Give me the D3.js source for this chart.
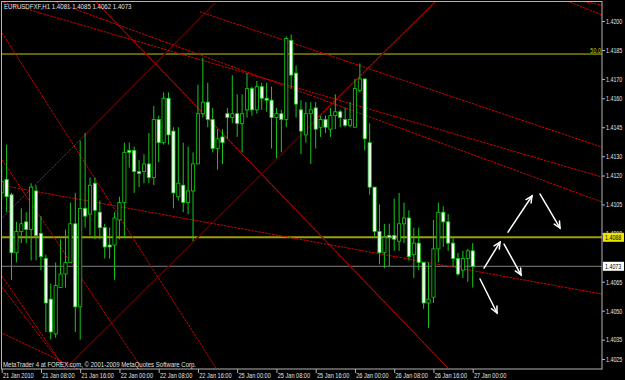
<!DOCTYPE html>
<html><head><meta charset="utf-8">
<script src="https://cdn.jsdelivr.net/npm/d3@7"></script>
<style>html,body{margin:0;padding:0;background:#000;}svg{display:block;}</style>
</head><body>
<script>
// ---- data ----
const symbolTitle = "EURUSDFXF,H1  1.4081 1.4085 1.4062 1.4073";
const copyright = "MetaTrader 4 at FOREX.com, \u00A9 2001-2009 MetaQuotes Software Corp.";
const opens  = [1.4111,1.4118,1.4110,1.4080,1.4091,1.4096,1.4092,1.4112,1.4090,1.4077,1.4056,1.4038,1.4062,1.4069,1.4075,1.4095,1.4052,1.4103,1.4100,1.4116,1.4101,1.4093,1.4084,1.4084,1.4097,1.4106,1.4133,1.4133,1.4122,1.4122,1.4126,1.4119,1.4149,1.4137,1.4160,1.4143,1.4109,1.4115,1.4106,1.4112,1.4126,1.4152,1.4158,1.4149,1.4134,1.4140,1.4152,1.4150,1.4152,1.4147,1.4154,1.4165,1.4154,1.4166,1.4160,1.4159,1.4150,1.4152,1.4149,1.4190,1.4173,1.4154,1.4141,1.4152,1.4155,1.4145,1.4149,1.4144,1.4151,1.4153,1.4149,1.4146,1.4145,1.4164,1.4170,1.4137,1.4114,1.4091,1.4080,1.4089,1.4089,1.4086,1.4095,1.4098,1.4079,1.4085,1.4075,1.4054,1.4057,1.4082,1.4101,1.4096,1.4085,1.4077,1.4071,1.4077,1.4081];
const highs  = [1.4125,1.4136,1.4111,1.4096,1.4103,1.4101,1.4116,1.4115,1.4099,1.4079,1.4064,1.4075,1.4087,1.4092,1.4106,1.4111,1.4138,1.4142,1.4119,1.4119,1.4107,1.4095,1.4093,1.4101,1.4109,1.4137,1.4137,1.4135,1.4128,1.4131,1.4142,1.4156,1.4151,1.4163,1.4163,1.4145,1.4145,1.4137,1.4135,1.4132,1.4167,1.4181,1.4168,1.4155,1.4144,1.4144,1.4155,1.4172,1.4162,1.4162,1.4173,1.4166,1.4169,1.4168,1.4168,1.4166,1.4155,1.4154,1.4192,1.4193,1.4177,1.4159,1.4158,1.4158,1.4158,1.4151,1.4151,1.4155,1.4162,1.4154,1.4155,1.4158,1.4170,1.4178,1.4170,1.4147,1.4114,1.4105,1.4095,1.4095,1.4108,1.4111,1.4106,1.4102,1.4093,1.4093,1.4075,1.4075,1.4097,1.4106,1.4104,1.4100,1.4088,1.4080,1.4081,1.4082,1.4085];
const lows   = [1.4107,1.4101,1.4066,1.4075,1.4085,1.4085,1.4076,1.4076,1.4071,1.4039,1.4035,1.4036,1.4062,1.4062,1.4075,1.4039,1.4035,1.4093,1.4089,1.4087,1.4087,1.4077,1.4077,1.4066,1.4087,1.4088,1.4124,1.4111,1.4114,1.4116,1.4116,1.4115,1.4127,1.4136,1.4136,1.4103,1.4107,1.4101,1.4100,1.4086,1.4126,1.4150,1.4145,1.4132,1.4123,1.4126,1.4139,1.4147,1.4140,1.4132,1.4150,1.4151,1.4152,1.4154,1.4153,1.4134,1.4129,1.4132,1.4145,1.4165,1.4150,1.4131,1.4137,1.4126,1.4134,1.4140,1.4142,1.4140,1.4144,1.4145,1.4145,1.4145,1.4145,1.4163,1.4133,1.4110,1.4088,1.4074,1.4072,1.4073,1.4081,1.4081,1.4085,1.4076,1.4067,1.4071,1.4051,1.4041,1.4054,1.4075,1.4083,1.4081,1.4073,1.4068,1.4067,1.4065,1.4062];
const closes = [1.4117,1.4109,1.4080,1.4091,1.4095,1.4092,1.4114,1.4089,1.4078,1.4054,1.4039,1.4063,1.4069,1.4075,1.4095,1.4052,1.4103,1.4099,1.4115,1.4102,1.4093,1.4083,1.4083,1.4098,1.4106,1.4132,1.4132,1.4122,1.4121,1.4126,1.4119,1.4149,1.4137,1.4160,1.4141,1.4111,1.4116,1.4106,1.4112,1.4126,1.4152,1.4158,1.4149,1.4134,1.4139,1.4137,1.4150,1.4152,1.4147,1.4152,1.4165,1.4154,1.4166,1.4160,1.4159,1.4150,1.4152,1.4149,1.4191,1.4172,1.4157,1.4143,1.4152,1.4154,1.4144,1.4149,1.4145,1.4151,1.4153,1.4150,1.4146,1.4149,1.4165,1.4170,1.4139,1.4114,1.4091,1.4080,1.4088,1.4088,1.4087,1.4095,1.4098,1.4078,1.4085,1.4075,1.4054,1.4056,1.4082,1.4101,1.4096,1.4085,1.4077,1.4069,1.4077,1.4081,1.4073];

const xTickBars   = [0,8,16,24,32,40,48,56,64,72,80,88,96];
const xTickLabels = ["21 Jan 2010","21 Jan 08:00","21 Jan 16:00","22 Jan 00:00","22 Jan 08:00","22 Jan 16:00","25 Jan 00:00","25 Jan 08:00","25 Jan 16:00","26 Jan 00:00","26 Jan 08:00","26 Jan 16:00","27 Jan 00:00"];
const yTickValues = [1.4200,1.4185,1.4170,1.4160,1.4145,1.4130,1.4120,1.4105,1.4090,1.4065,1.4050,1.4035,1.4025];

const fibLevel = 1.41829, fibLabel = "50.0";
const hLevel = 1.4088;
const bidPrice = 1.4073;

// trend lines: [barIndex, price] pairs
const redLines = [
  [[0.06,1.41938],[43.68,1.40203]],
  [[19.02,1.42104],[90.97,1.40203]],
  [[-0.35,1.40969],[15.96,1.41384]],
  [[64.47,1.41503],[88.32,1.42098]],
  [[-0.35,1.41151],[122.36,1.40586]],
  [[40.42,1.42047],[122.36,1.41347]],
  [[0.26,1.42098],[122.36,1.41192]],
  [[9.85,1.42109],[122.36,1.41063]],
  [[115.84,1.42098],[122.36,1.42031]],
  [[117.88,1.42104],[122.36,1.42083]],
  [[-0.35,1.41296],[28.8,1.40193]],
  [[0.06,1.40679],[13.11,1.40193]],
  [[0.06,1.40622],[13.11,1.40193]],
  [[-0.35,1.40389],[15.96,1.40193]]
];
const darkLines = [
  [[19.02,1.42104],[90.97,1.40203]],
  [[15.96,1.41384],[43.48,1.42093]],
  [[13.11,1.40203],[88.32,1.42098]]
];
const arrows = [
  [[98.31,1.40721],[101.57,1.40855]],
  [[103.2,1.40907],[108.09,1.41094]],
  [[109.73,1.41104],[113.8,1.40928]],
  [[102.39,1.40845],[105.85,1.40685]],
  [[97.5,1.40664],[100.96,1.40488]]
];

// ---- drawing ----
const W = 625, H = 380;
const plot = {l:1.5, r:602, t:1.5, b:369};
const x = d3.scaleLinear().domain([0, 96]).range([1.7, 472.7]);
const y = d3.scaleLinear().domain([1.4025, 1.4200]).range([359, 21]);

const svg = d3.select("body").append("svg").attr("width", W).attr("height", H)
  .style("background", "#000");
svg.append("rect").attr("width", W).attr("height", H).attr("fill", "#000");

svg.append("clipPath").attr("id","clip").append("rect")
  .attr("x", plot.l).attr("y", plot.t).attr("width", plot.r-plot.l).attr("height", plot.b-plot.t);
const g = svg.append("g").attr("clip-path","url(#clip)");

const line = d3.line().x(d => x(d[0])).y(d => y(d[1]));

// horizontal levels
g.append("line").attr("x1", plot.l).attr("x2", plot.r).attr("y1", y(fibLevel)).attr("y2", y(fibLevel))
  .attr("stroke", "#c8c800").attr("stroke-width", 1);
g.append("line").attr("x1", plot.l).attr("x2", plot.r).attr("y1", y(hLevel)).attr("y2", y(hLevel))
  .attr("stroke", "#a0a000").attr("stroke-width", 2);
g.append("line").attr("x1", plot.l).attr("x2", plot.r).attr("y1", y(bidPrice)).attr("y2", y(bidPrice))
  .attr("stroke", "#808080").attr("stroke-width", 1);

// trend lines
g.selectAll("path.dark").data(darkLines).join("path").attr("class","dark")
  .attr("d", line).attr("fill","none").attr("stroke","#5c0000").attr("stroke-width",1.3);
g.selectAll("path.red").data(redLines).join("path").attr("class","red")
  .attr("d", line).attr("fill","none").attr("stroke","#d40000").attr("stroke-width",1)
  .attr("stroke-dasharray","2.5,1");

// candles
const idx = d3.range(opens.length);
const wickColor = "#18c818";
g.selectAll("line.wick").data(idx).join("line").attr("class","wick")
  .attr("x1", i => x(i)).attr("x2", i => x(i))
  .attr("y1", i => y(highs[i])).attr("y2", i => y(lows[i]))
  .attr("stroke", wickColor).attr("stroke-width", 1);
const bw = 3.2;
g.selectAll("rect.body").data(idx).join("rect").attr("class","body")
  .attr("x", i => x(i) - bw/2)
  .attr("y", i => y(Math.max(opens[i], closes[i])))
  .attr("width", bw)
  .attr("height", i => Math.max(1, Math.abs(y(opens[i]) - y(closes[i]))))
  .attr("fill", i => closes[i] < opens[i] ? "#ffffff" : "#000000")
  .attr("stroke", "#10d010").attr("stroke-width", 0.8);

// arrows
const ag = g.append("g").attr("stroke","#ffffff").attr("stroke-width",1.5).attr("fill","none")
  .attr("stroke-linecap","round");
arrows.forEach(a => {
  const x0 = x(a[0][0]), y0 = y(a[0][1]), x1 = x(a[1][0]), y1 = y(a[1][1]);
  ag.append("line").attr("x1",x0).attr("y1",y0).attr("x2",x1).attr("y2",y1);
  const ang = Math.atan2(y1-y0, x1-x0), L = 7, sp = 0.45;
  ag.append("polyline").attr("points", [
    [x1 - L*Math.cos(ang - sp), y1 - L*Math.sin(ang - sp)],
    [x1, y1],
    [x1 - L*Math.cos(ang + sp), y1 - L*Math.sin(ang + sp)]
  ].map(p => p.join(",")).join(" "));
});

// frame
svg.append("rect").attr("x", plot.l).attr("y", plot.t).attr("width", plot.r-plot.l).attr("height", plot.b-plot.t)
  .attr("fill","none").attr("stroke","#b4b4b4").attr("stroke-width",1);

const fontFam = "'Liberation Sans', Arial, sans-serif";
const txtCol = "#e0e0e0";

// y axis
const yAxis = svg.append("g").attr("transform", `translate(${plot.r},0)`)
  .call(d3.axisRight(y).tickValues(yTickValues).tickFormat(d3.format(".4f")).tickSize(3));
yAxis.select(".domain").remove();
yAxis.selectAll(".tick line").attr("stroke", "#b4b4b4");
yAxis.selectAll(".tick text").attr("x", null).attr("dy", null)
  .attr("transform","translate(4,2.3) scale(0.82,1)")
  .attr("fill", txtCol).style("font-family", fontFam).style("font-size","6.5px");

// x axis
const xAxis = svg.append("g").attr("transform", `translate(0,${plot.b})`)
  .call(d3.axisBottom(x).tickValues(xTickBars).tickFormat((d,i) => xTickLabels[i]).tickSize(4));
xAxis.select(".domain").remove();
xAxis.selectAll(".tick line").attr("stroke", "#b4b4b4");
xAxis.selectAll(".tick text").attr("y", null).attr("dy", null)
  .attr("text-anchor","start")
  .attr("transform","translate(0.8,9) scale(0.86,1)")
  .attr("fill", txtCol).style("font-family", fontFam).style("font-size","6.5px");

// price boxes
function priceBox(p, fill) {
  const yy = y(p);
  svg.append("rect").attr("x", 603).attr("y", yy - 4.5).attr("width", 21).attr("height", 9).attr("fill", fill);
  svg.append("text").attr("transform", `translate(605,${yy+2.3}) scale(0.82,1)`)
    .attr("fill","#000").style("font-family", fontFam).style("font-size","6.5px")
    .text(d3.format(".4f")(p));
}
priceBox(hLevel, "#e6e600");
priceBox(bidPrice, "#ffffff");

// fib label
svg.append("text").attr("transform", `translate(${plot.r - 1},${y(fibLevel) - 1.5}) scale(0.84,1)`)
  .attr("text-anchor","end").attr("fill","#c8c800")
  .style("font-family", fontFam).style("font-size","6.5px").text(fibLabel);

// title & copyright
svg.append("text").attr("transform","translate(4,9) scale(0.94,1)")
  .attr("fill", txtCol).style("font-family", fontFam).style("font-size","6.5px").text(symbolTitle);
svg.append("text").attr("transform","translate(3,366.5) scale(0.93,1)")
  .attr("fill", txtCol).style("font-family", fontFam).style("font-size","6.5px").text(copyright);
</script>
</body></html>
